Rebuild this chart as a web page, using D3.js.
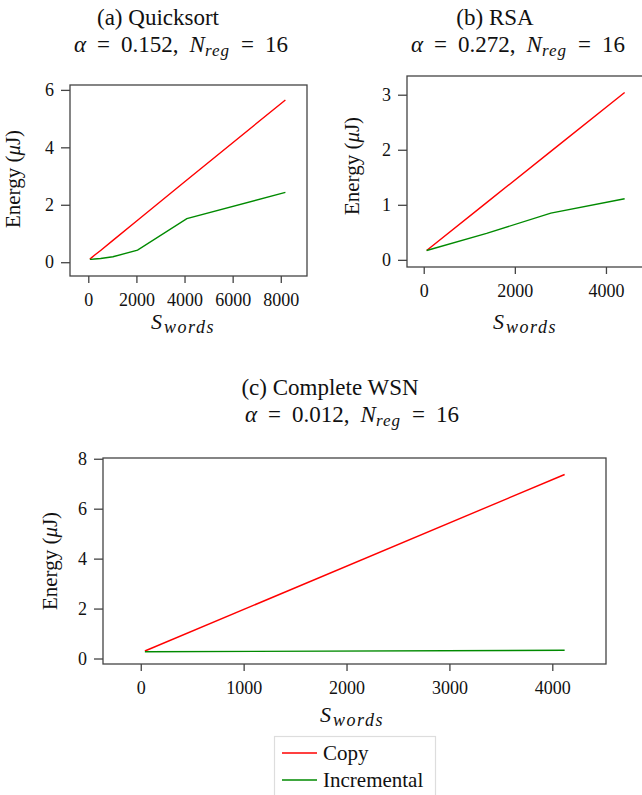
<!DOCTYPE html>
<html><head><meta charset="utf-8"><script src="https://cdn.jsdelivr.net/npm/d3@7"></script></head>
<body style="margin:0">
<script>
// data
const seriesNames = ['Copy', 'Incremental'];
const seriesColors = ['#ff0000', '#008a00'];

const qsSize = [64, 128, 256, 512, 1024, 2048, 4096, 8192];
const qsCopy = [0.11, 0.15, 0.24, 0.41, 0.76, 1.46, 2.86, 5.65];
const qsIncr = [0.10, 0.10, 0.11, 0.13, 0.19, 0.42, 1.52, 2.43];

const rsaSize = [64, 1380, 2790, 4410];
const rsaCopy = [0.17, 1.04, 1.97, 3.04];
const rsaIncr = [0.17, 0.48, 0.85, 1.11];

const wsnSize = [40, 4120];
const wsnCopy = [0.30, 7.37];
const wsnIncr = [0.27, 0.33];

const qsXTicks = [0, 2000, 4000, 6000, 8000];
const qsYTicks = [0, 2, 4, 6];
const rsaXTicks = [0, 2000, 4000];
const rsaYTicks = [0, 1, 2, 3];
const wsnXTicks = [0, 1000, 2000, 3000, 4000];
const wsnYTicks = [0, 2, 4, 6, 8];

const FONT = 'Liberation Serif, Times New Roman, Times, serif';

const svg = d3
  .select('body')
  .append('svg')
  .attr('width', 642)
  .attr('height', 795)
  .style('display', 'block');

const panels = [
  {
    name: '(a) Quicksort', alpha: '0.152',
    size: qsSize, copy: qsCopy, incr: qsIncr,
    xTicks: qsXTicks, yTicks: qsYTicks,
    box: { left: 70, right: 307, top: 85, bottom: 276 },
    xDomain: [-760, 9090], yDomain: [-0.48, 6.17],
    t1: [158, 25], t2: [181, 52], xl: [183, 329], yl: [20, 179],
  },
  {
    name: '(b) RSA', alpha: '0.272',
    size: rsaSize, copy: rsaCopy, incr: rsaIncr,
    xTicks: rsaXTicks, yTicks: rsaYTicks,
    box: { left: 407, right: 644, top: 76, bottom: 267 },
    xDomain: [-367, 4835], yDomain: [-0.13, 3.34],
    t1: [495, 25], t2: [518, 52], xl: [525, 329], yl: [359, 166],
  },
  {
    name: '(c) Complete WSN', alpha: '0.012',
    size: wsnSize, copy: wsnCopy, incr: wsnIncr,
    xTicks: wsnXTicks, yTicks: wsnYTicks,
    box: { left: 103, right: 606, top: 458, bottom: 664 },
    xDomain: [-367, 4522], yDomain: [-0.22, 8.03],
    t1: [330, 395], t2: [352, 422], xl: [352, 722], yl: [57, 561],
  },
];

const label = (sel, x, y, size) =>
  sel.append('text')
    .attr('x', x).attr('y', y)
    .attr('font-size', size)
    .style('font-family', FONT)
    .attr('fill', '#111');

const drawPanel = (p) => {
  const b = p.box;
  const x = d3.scaleLinear().domain(p.xDomain).range([b.left, b.right]);
  const y = d3.scaleLinear().domain(p.yDomain).range([b.bottom, b.top]);
  const g = svg.append('g');

  //titles
  label(g, p.t1[0], p.t1[1], 23).attr('text-anchor', 'middle').text(p.name);

  const gap = 11;
  const t2 = label(g, p.t2[0], p.t2[1], 23).attr('text-anchor', 'middle');
  t2.append('tspan').attr('font-style', 'italic').text('α');
  t2.append('tspan').attr('dx', gap).text('=');
  t2.append('tspan').attr('dx', gap).text(p.alpha + ',');
  t2.append('tspan').attr('dx', gap).attr('font-style', 'italic').text('N');
  t2.append('tspan').attr('font-style', 'italic').attr('font-size', 17)
    .attr('dy', 4).attr('letter-spacing', 1).text('reg');
  t2.append('tspan').attr('dy', -4).attr('dx', gap).text('=');
  t2.append('tspan').attr('dx', gap).text('16');

  //box
  g.append('rect')
    .attr('x', b.left).attr('y', b.top)
    .attr('width', b.right - b.left).attr('height', b.bottom - b.top)
    .attr('fill', 'none').attr('stroke', '#444').attr('stroke-width', 1.3);

  //axes
  const xAxis = d3.axisBottom(x).tickValues(p.xTicks).tickSize(7).tickPadding(6)
    .tickFormat(d3.format('d'));
  const yAxis = d3.axisLeft(y).tickValues(p.yTicks).tickSize(9).tickPadding(7)
    .tickFormat(d3.format('d'));

  const xg = g.append('g').attr('transform', `translate(0, ${b.bottom})`).call(xAxis);
  const yg = g.append('g').attr('transform', `translate(${b.left}, 0)`).call(yAxis);
  [xg, yg].forEach((ag) => {
    ag.attr('font-family', FONT).attr('font-size', 18);
    ag.select('.domain').remove();
    ag.selectAll('line').attr('stroke', '#444').attr('stroke-width', 1.3);
    ag.selectAll('text')
      .style('font-family', FONT)
      .attr('fill', '#111');
  });
  xg.selectAll('text').attr('dy', '0.95em');

  //axis labels
  const xl = label(g, p.xl[0], p.xl[1], 22).attr('text-anchor', 'middle');
  xl.append('tspan').attr('font-style', 'italic').text('S');
  xl.append('tspan').attr('font-style', 'italic').attr('font-size', 18)
    .attr('dx', 2).attr('dy', 4).attr('letter-spacing', 1.5).text('words');

  const yl = label(g, 0, 0, 21)
    .attr('transform', `translate(${p.yl[0]}, ${p.yl[1]}) rotate(-90)`)
    .attr('text-anchor', 'middle');
  yl.append('tspan').text('Energy (');
  yl.append('tspan').attr('font-style', 'italic').text('μ');
  yl.append('tspan').text('J)');

  //lines
  const line = d3.line()
    .x((d) => x(d[0]))
    .y((d) => y(d[1]));

  [p.copy, p.incr].forEach((vals, i) => {
    g.append('path')
      .datum(p.size.map((s, k) => [s, vals[k]]))
      .attr('fill', 'none')
      .attr('stroke', seriesColors[i])
      .attr('stroke-width', 1.4)
      .attr('d', line);
  });
};

panels.forEach(drawPanel);

//legend
const legend = svg.append('g');
legend.append('rect')
  .attr('x', 274.5).attr('y', 736.5)
  .attr('width', 161).attr('height', 70)
  .attr('fill', '#fff').attr('stroke', '#ddd').attr('stroke-width', 1.2);

const items = legend.selectAll('g.item')
  .data(seriesNames)
  .enter()
  .append('g')
  .attr('class', 'item')
  .attr('transform', (d, i) => `translate(0, ${753 + i * 27})`);

items.append('line')
  .attr('x1', 282).attr('x2', 317)
  .attr('y1', 0).attr('y2', 0)
  .attr('stroke', (d, i) => seriesColors[i])
  .attr('stroke-width', 1.4);

items.append('text')
  .attr('x', 323).attr('y', 7)
  .attr('font-size', 21)
  .style('font-family', FONT)
  .attr('fill', '#111')
  .text((d) => d);
</script>
</body>
</html>
